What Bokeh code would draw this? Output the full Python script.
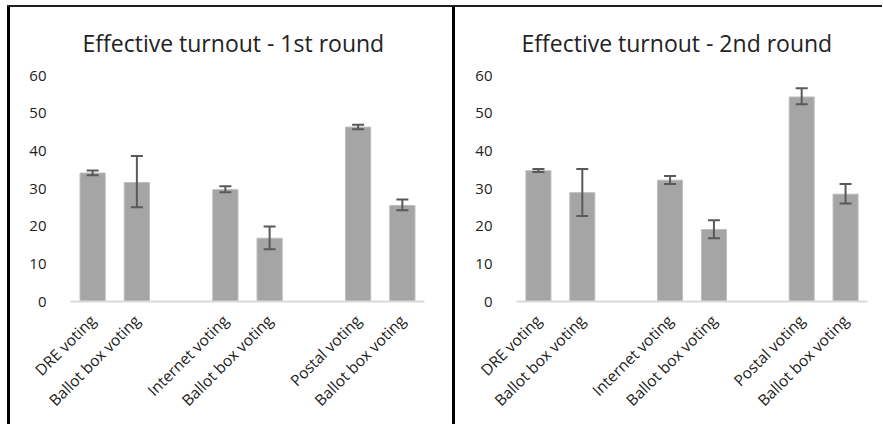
from bokeh.plotting import figure
from bokeh.models import (ColumnDataSource, Whisker, TeeHead, FixedTicker, Range1d,
                          Row, Column, Div)
from bokeh.embed import file_html
from bokeh.resources import INLINE

# ---- data ----
labels = ["DRE voting", "Ballot box voting", "Internet voting", "Ballot box voting",
          "Postal voting", "Ballot box voting"]
group_of = [0, 0, 1, 1, 2, 2]

round1_mean = [34.1, 31.6, 29.7, 16.8, 46.3, 25.5]
round1_low = [33.5, 25.0, 29.0, 13.9, 45.7, 24.2]
round1_high = [34.8, 38.6, 30.6, 19.9, 46.9, 27.1]

round2_mean = [34.7, 28.9, 32.2, 19.1, 54.3, 28.5]
round2_low = [34.4, 22.7, 31.2, 16.8, 52.4, 26.0]
round2_high = [35.2, 35.2, 33.3, 21.6, 56.6, 31.2]

y_ticks = [0, 10, 20, 30, 40, 50, 60]
titles = ["Effective turnout - 1st round", "Effective turnout - 2nd round"]

FONT = "Open Sans"
TEXT = "#222222"
H = 417


def make_panel(title, mean, low, high, width, mb_left, mb_right, title_offset):
    # slot index: each group takes 2 bars + 1 empty slot
    xs = [g * 3 + i % 2 for i, g in enumerate(group_of)]
    src = ColumnDataSource(dict(x=xs, top=mean, lower=low, upper=high))
    p = figure(width=width, height=H, output_backend="svg", toolbar_location=None,
               x_range=Range1d(-0.5, 7.5), y_range=Range1d(0, 60),
               min_border_left=mb_left, min_border_right=mb_right,
               min_border_top=68, min_border_bottom=H - 294, title=title,
               margin=0)
    p.title.text_font = FONT
    p.title.text_font_size = "23px"
    p.title.text_font_style = "normal"
    p.title.text_color = TEXT
    p.title.align = "left"
    p.title.standoff = 34
    p.title.offset = title_offset
    p.outline_line_color = None
    p.xgrid.visible = False
    p.ygrid.visible = False

    p.vbar(x="x", top="top", width=0.57, bottom=0, source=src,
           fill_color="#a5a5a5", line_color="#bdbdbd", line_width=1)
    w = Whisker(base="x", lower="lower", upper="upper", source=src,
                line_color="#595959", line_width=2, level="overlay",
                upper_head=TeeHead(size=12, line_color="#595959", line_width=2),
                lower_head=TeeHead(size=12, line_color="#595959", line_width=2))
    p.add_layout(w)

    p.yaxis.ticker = FixedTicker(ticks=y_ticks)
    p.yaxis.axis_line_color = None
    p.yaxis.major_tick_line_color = None
    p.yaxis.minor_tick_line_color = None
    p.yaxis.major_label_standoff = 18
    p.yaxis.major_label_text_font = FONT
    p.yaxis.major_label_text_font_size = "15px"
    p.yaxis.major_label_text_color = TEXT

    p.xaxis.ticker = FixedTicker(ticks=xs)
    p.xaxis.major_label_overrides = {x: lab for x, lab in zip(xs, labels)}
    p.xaxis.major_label_orientation = 0.785398
    p.xaxis.axis_line_color = "#d9d9d9"
    p.xaxis.axis_line_width = 2
    p.xaxis.major_tick_line_color = None
    p.xaxis.minor_tick_line_color = None
    p.xaxis.major_label_standoff = 10
    p.xaxis.major_label_text_font = FONT
    p.xaxis.major_label_text_font_size = "15.5px"
    p.xaxis.major_label_text_color = TEXT
    return p


p1 = make_panel(titles[0], round1_mean, round1_low, round1_high, 442, 60, 28, 12)
p2 = make_panel(titles[1], round2_mean, round2_low, round2_high, 425, 61, 13, 5)

top_line = Div(text="", width=875, height=2, margin=(5, 0, 0, 7),
               styles={"background-color": "#1f1f1f"})
left_line = Div(text="", width=3, height=H, margin=(0, 0, 0, 7),
                styles={"background-color": "#000000"})
mid_line = Div(text="", width=3, height=H, margin=0,
               styles={"background-color": "#000000"})

layout = Column(children=[top_line,
                          Row(children=[left_line, p1, mid_line, p2], spacing=0, margin=0)],
                spacing=0, margin=0)
open("out.html", "w").write(file_html(layout, INLINE))
